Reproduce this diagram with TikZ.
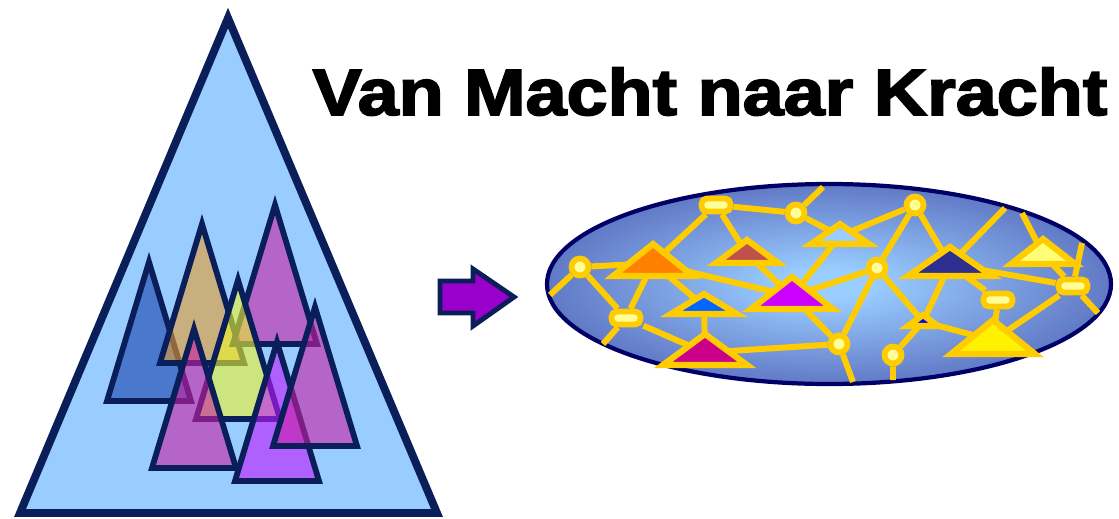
\documentclass[tikz,border=0pt]{standalone}
\usepackage{fontspec}
\newfontfamily\headfont{Liberation Sans}[BoldFeatures={FakeBold=2.5}]
\pgfdeclarelayer{wires}
\pgfsetlayers{wires,main}
\definecolor{navy}{HTML}{0A1E5A}
\definecolor{skyfill}{HTML}{99CCFF}
\definecolor{netgold}{HTML}{FFCC00}
\definecolor{bulb}{HTML}{FFFF99}
\definecolor{netdark}{HTML}{2E2E91}
\definecolor{netrim}{HTML}{000066}
\definecolor{arrowfill}{HTML}{9900CC}
\definecolor{pyrblue}{RGB}{21,64,170}
\definecolor{pyrtan}{RGB}{233,155,40}
\definecolor{pyrmag}{RGB}{200,31,163}
\definecolor{pyrlime}{RGB}{240,246,42}
\definecolor{pyrviolet}{RGB}{192,24,255}
\definecolor{peakbrown}{HTML}{C0504D}
\definecolor{peakblue}{HTML}{0066FF}
\definecolor{peakviolet}{HTML}{CC00FF}
\definecolor{peakpink}{HTML}{CC0088}
\definecolor{peaklemon}{HTML}{FFFF77}
\pgfdeclareradialshading{netglow}{\pgfpointorigin}{color(0bp)=(skyfill); color(4bp)=(skyfill); color(44bp)=(netdark); color(50bp)=(netdark)}
\tikzset{
	pyr/.style={draw=navy, line width=3.3pt, fill opacity=0.6, line join=miter},
	nettri/.style={draw=netgold, line width=3.5pt, line join=miter},
	hub/.style={circle, draw=netgold, fill=bulb, line width=3.3pt, minimum size=0.34cm, inner sep=0pt},
	plug/.style={rectangle, rounded corners=3pt, draw=netgold, fill=bulb, line width=3.3pt, minimum width=0.58cm, minimum height=0.26cm, inner sep=0pt},
	link/.style={draw=netgold, line width=3.4pt}
}
% apex x, apex y, colour
\newcommand{\pyramid}[3]{\draw[pyr, fill=#3] (#1,#2) -- ++(-42,139) -- ++(84,0) -- cycle;}
% name, apex x, apex y, half width, height, colour
\newcommand{\netpeak}[6]{%
	\coordinate (#1) at (#2,{#3+0.6*#5});
	\draw[nettri, fill=#6] (#2,#3) -- ++({-#4},#5) -- ++({2*#4},0) -- cycle;}
\begin{document}
\begin{tikzpicture}[x=0.02cm, y=-0.02cm]
	\useasboundingbox (0,0) rectangle (1119,518);
	\draw[navy, line width=4.5pt, fill=skyfill, line join=miter] (228,18) -- (437,513) -- (20,513) -- cycle;
	\pyramid{149}{262}{pyrblue}
	\pyramid{202}{224}{pyrtan}
	\pyramid{275}{205}{pyrmag}
	\pyramid{238}{280}{pyrlime}
	\pyramid{194}{329}{pyrmag}
	\pyramid{277}{342}{pyrviolet}
	\pyramid{315}{307}{pyrmag}
	\draw[navy, line width=2.8pt, fill=arrowfill, line join=miter] (440,281) -- (473,281) -- (473,269) -- (514,297) -- (473,326) -- (473,313) -- (440,313) -- cycle;
	\node[anchor=base, inner sep=0pt, font=\headfont\bfseries\fontsize{37.3pt}{40pt}\selectfont] (title) at (710,115) {\scalebox{1.125}[1]{Van Macht naar Kracht}};
	\begin{pgfonlayer}{wires}
		\draw[netrim, line width=2.4pt, shading=netglow] (829,284) ellipse [x radius=282, y radius=100];
	\end{pgfonlayer}
	\netpeak{orange}{653}{244}{40}{32}{orange}
	\netpeak{brown}{747}{240}{31}{23}{peakbrown}
	\netpeak{blue}{704}{294}{33}{20}{peakblue}
	\netpeak{violet}{792}{277}{41}{32}{peakviolet}
	\netpeak{pink}{705}{334}{42}{31}{peakpink}
	\netpeak{sky}{840}{224}{29}{20}{skyfill}
	\netpeak{dark}{950}{247}{42}{29}{netdark}
	\netpeak{tiny}{923}{315}{15}{11}{blue}
	\netpeak{lemon}{1043}{239}{32}{25}{peaklemon}
	\netpeak{yellow}{993}{320}{42}{34}{yellow}
	\node[hub] (c1) at (580,267) {};
	\node[hub] (c2) at (796,213) {};
	\node[hub] (c3) at (915,205) {};
	\node[hub] (c4) at (877,268) {};
	\node[hub] (c5) at (839,344) {};
	\node[hub] (c6) at (893,355) {};
	\node[plug] (r1) at (716,205) {};
	\node[plug] (r2) at (626,318) {};
	\node[plug] (r3) at (998,300) {};
	\node[plug] (r4) at (1073,286) {};
	\coordinate (e1) at (550,295);
	\coordinate (e2) at (603,344);
	\coordinate (e3) at (823,187);
	\coordinate (e4) at (853,382);
	\coordinate (e5) at (1005,208);
	\coordinate (e6) at (893,380);
	\coordinate (e7) at (1098,313);
	\coordinate (e8) at (1082,243);
	\coordinate (e9) at (1022,213);
	\begin{pgfonlayer}{wires}
		\draw[link] (c1) -- (e1) (c1) -- (orange) (c1) -- (r2) (r2) -- (e2) (r2) -- (orange) (r2) -- (pink);
		\draw[link] (orange) -- (r1) (orange) -- (blue) (orange) -- (violet) (blue) -- (pink);
		\draw[link] (r1) -- (c2) (r1) -- (brown) (brown) -- (violet) (c2) -- (e3) (c2) -- (sky);
		\draw[link] (violet) -- (sky) (violet) -- (c4) (violet) -- (c5) (pink) -- (c5);
		\draw[link] (sky) -- (c3) (c3) -- (c4) (c3) -- (dark) (c4) -- (c5) (c4) -- (tiny) (c5) -- (e4);
		\draw[link] (dark) -- (e5) (dark) -- (tiny) (dark) -- (r4) (dark) -- (r3) (tiny) -- (c6) (c6) -- (e6);
		\draw[link] (tiny) -- (yellow) (r3) -- (yellow) (yellow) -- (r4) (r4) -- (e7) (r4) -- (e8) (lemon) -- (r4) (lemon) -- (e9);
	\end{pgfonlayer}
\end{tikzpicture}
\end{document}
